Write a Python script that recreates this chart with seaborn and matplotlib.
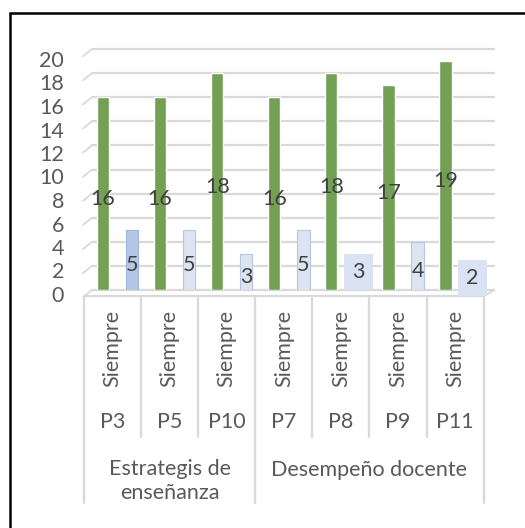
import pandas as pd
import matplotlib.pyplot as plt
import matplotlib.transforms as mtransforms
from matplotlib.patches import Rectangle
import seaborn as sns

# data
preguntas = ["P3", "P5", "P10", "P7", "P8", "P9", "P11"]
siempre = [16, 16, 18, 16, 18, 17, 19]
casi_siempre = [5, 5, 3, 5, 3, 4, 2]
respuesta = "Siempre"
grupos = ["Estrategis de\nenseñanza", "Desempeño docente"]
grupo_tam = [3, 4]
# labels shown as filled boxes (no visible column)
boxed = ["P8", "P11"]

df = pd.DataFrame({
    "pregunta": preguntas * 2,
    "serie": ["Siempre"] * len(preguntas) + ["Casi siempre"] * len(preguntas),
    "valor": siempre + casi_siempre,
})

sns.set_theme(style="white")
plt.rcParams["font.family"] = ["Lato", "DejaVu Sans"]
FS = 15.5
TXT = "#595959"

W, H = 525, 528
fig = plt.figure(figsize=(W / 100, H / 100), dpi=100)
ax = fig.add_axes([89 / W, 1 - 290 / H, (494 - 89) / W, (290 - 49) / H])

sns.barplot(
    data=df, x="pregunta", y="valor", hue="serie", order=preguntas,
    palette={"Siempre": "#70AD47", "Casi siempre": "#DAE3F3"},
    width=1.02, gap=0.58, legend=False, ax=ax, zorder=3,
)

ax.set_xlim(-0.5, 6.593)
ax.set_ylim(0, 20)
yticks = list(range(0, 21, 2))
ax.set_yticks(yticks)
ax.set_xticks([])
ax.set_xlabel("")
ax.set_ylabel("")
for s in ax.spines.values():
    s.set_visible(False)
ax.tick_params(axis="y", length=0, pad=18, labelsize=FS, labelcolor=TXT)
# front-axis labels sit a little below the back-wall gridlines
for v, lab in zip(yticks, ax.get_yticklabels()):
    off = mtransforms.ScaledTranslation(0, -(4 + 0.3 * v) / 100, fig.dpi_scale_trans)
    lab.set_transform(lab.get_transform() + off)

# back-wall gridlines with a short perspective slant at the left
grid_c = "#D9D9D9"
for v in yticks:
    ax.plot([-0.447, 6.593], [v, v], color=grid_c, lw=1.6, zorder=1, clip_on=False)
    ax.plot([-0.605, -0.447], [v - 0.6, v], color=grid_c, lw=1.3, zorder=1, clip_on=False)

# bar colours and labels
green_c, light_c = ax.containers
for p in light_c.patches:
    p.set_edgecolor("#B4C7E7")
    p.set_linewidth(0.8)
light_c.patches[0].set_facecolor("#B4C7E7")
light_c.patches[0].set_edgecolor("#9DB5DE")

lab_shift = mtransforms.ScaledTranslation(0, -5 / 100, fig.dpi_scale_trans)
for i, p in enumerate(green_c.patches):
    ax.text(p.get_x() + p.get_width() / 2, siempre[i] / 2, str(siempre[i]),
            ha="center", va="center", fontsize=FS, color="#404040",
            transform=ax.transData + lab_shift, zorder=5)
for i, p in enumerate(light_c.patches):
    xc = p.get_x() + p.get_width() / 2
    if preguntas[i] in boxed:
        p.set_visible(False)
        ax.text(xc - 0.04, casi_siempre[i] / 2, str(casi_siempre[i]),
                ha="center", va="center", fontsize=FS, color="#404040", zorder=5,
                bbox=dict(boxstyle="square,pad=0.38", fc="#DAE3F3", ec="none"))
    else:
        ax.text(xc, casi_siempre[i] / 2, str(casi_siempre[i]),
                ha="center", va="center", fontsize=FS, color="#404040",
                transform=ax.transData + lab_shift, zorder=5)

# category table under the plot
trans = mtransforms.blended_transform_factory(ax.transData, fig.transFigure)


def fy(px):
    return 1 - px / H


x0 = -0.5876
n = len(preguntas)
ax.plot([x0, x0 + n], [fy(296), fy(296)], transform=trans, color=grid_c, lw=1.6, clip_on=False)
ax.plot([x0 + n, x0 + n + 0.19], [fy(296), fy(290)], transform=trans, color=grid_c, lw=1.3, clip_on=False)
outer = [0]
for t in grupo_tam:
    outer.append(outer[-1] + t)
for k in range(n + 1):
    bottom = 503 if k in outer else 437
    ax.plot([x0 + k, x0 + k], [fy(296), fy(bottom)], transform=trans,
            color=grid_c, lw=1.6, clip_on=False)
for i, q in enumerate(preguntas):
    xc = x0 + i + 0.5
    ax.text(xc, fy(348), respuesta, rotation=90, ha="center", va="center",
            fontsize=FS, color=TXT, transform=trans)
    ax.text(xc, fy(422), q, ha="center", va="center",
            fontsize=FS, color=TXT, transform=trans)
for g, name in enumerate(grupos):
    xc = x0 + (outer[g] + outer[g + 1]) / 2
    yc = 481 if "\n" in name else 470
    ax.text(xc, fy(yc), name, ha="center", va="center", fontsize=FS,
            color=TXT, transform=trans, linespacing=1.25)

# outer chart border (left and top edges visible)
fig.add_artist(Rectangle((10 / W, -0.1), 1.2, 1.1 - 13 / H, transform=fig.transFigure,
                         fill=False, ec="black", lw=1.8))

fig.savefig("out.png", dpi=100)
